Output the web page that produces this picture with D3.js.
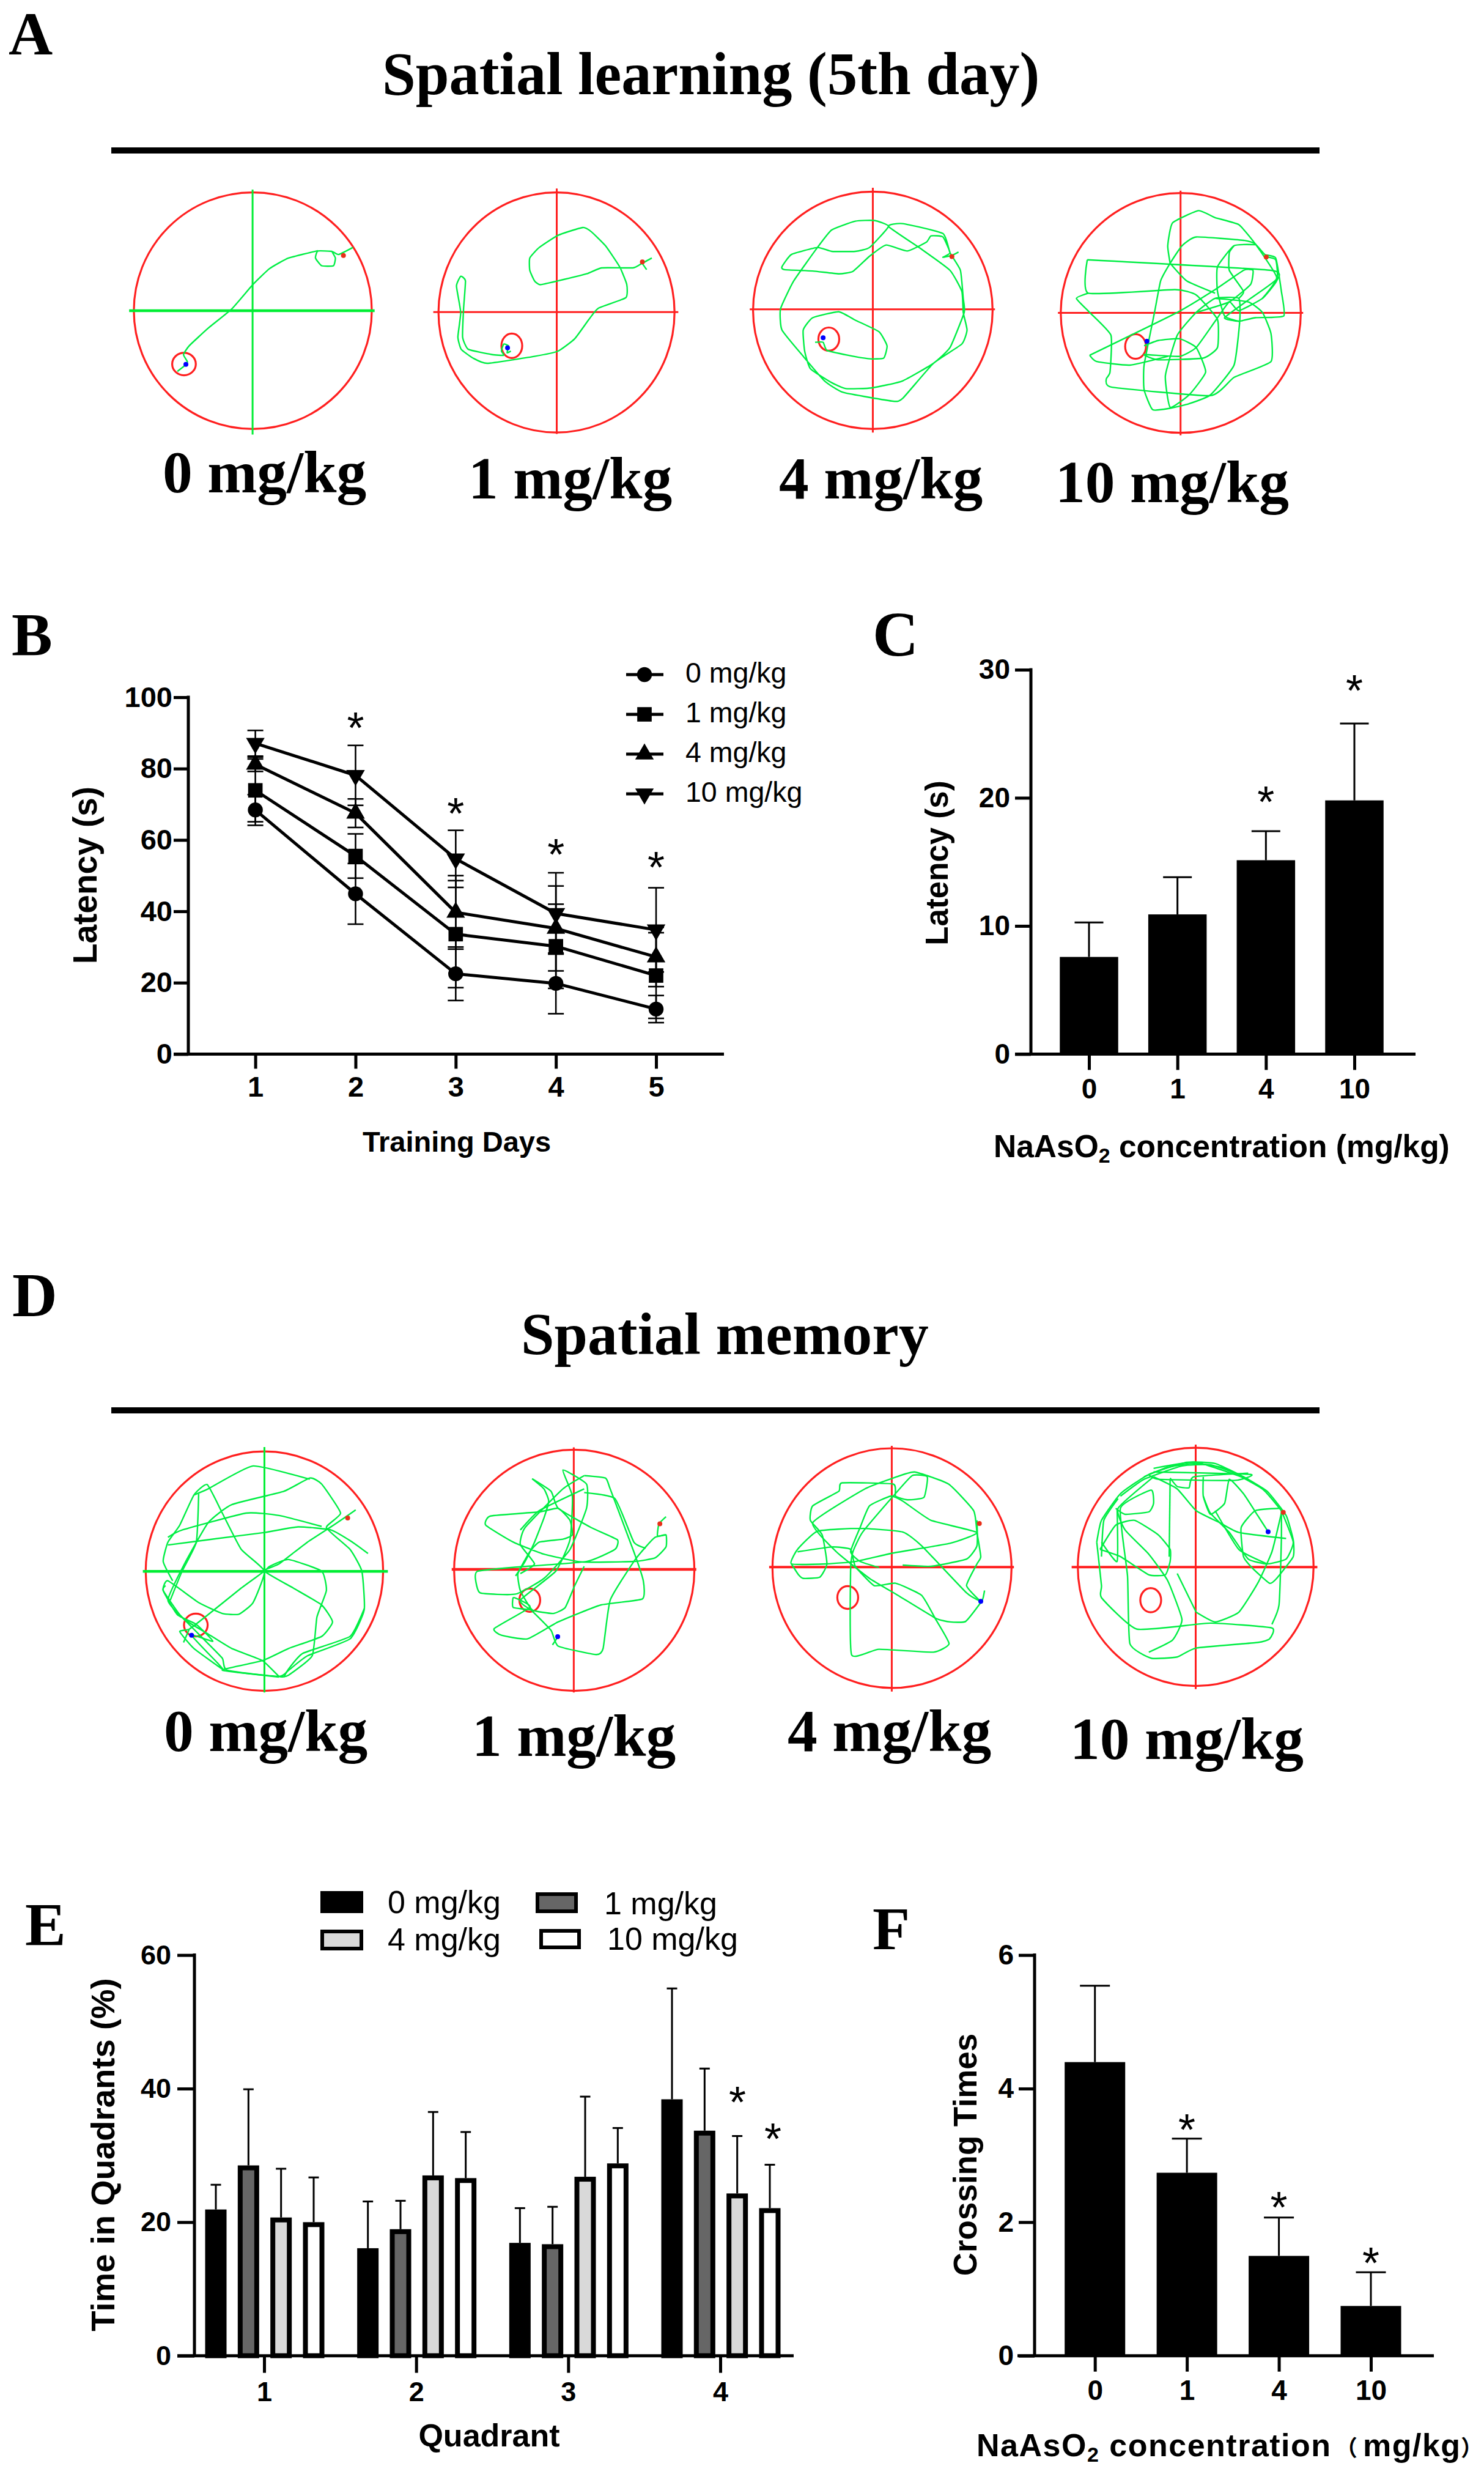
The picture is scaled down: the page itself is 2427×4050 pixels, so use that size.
<!DOCTYPE html>
<html><head><meta charset="utf-8">
<script src="https://cdn.jsdelivr.net/npm/d3@7"></script>
<style>html,body{margin:0;padding:0;background:#fff}svg{display:block}</style>
</head><body><svg id="c" width="2427" height="4050"></svg>
<script>
// ---------- data ----------
const doses = ["0 mg/kg","1 mg/kg","4 mg/kg","10 mg/kg"];
const days = [1,2,3,4,5];
const latency0 = [68.4,44.9,22.5,19.8,12.6];
const latency1 = [73.9,55.5,33.6,30.2,22.0];
const latency4 = [81.2,67.5,39.7,35.2,27.2];
const latency10 = [87.1,78.1,54.7,39.4,34.8];
const latencyErr0 = [4.3,8.5,7.5,8.5,3.8];
const latencyErr1 = [8.8,6.2,15,11.8,12];
const latencyErr4 = [2,4,10.3,11.9,8.3];
const latencyErr10 = [3.6,8.4,8,11.4,11.8];
const starsB = [[2,94],[3,70],[4,58.5],[5,55]];

const concLabels = ["0","1","4","10"];
const probeLatency = [7.58,10.9,15.13,19.8];
const probeLatencyTop = [10.27,13.8,17.4,25.8];
const starsC = [["4",20.4],["10",29.1]];

const quadrants = ["1","2","3","4"];
const quad0 = [21.9,16.1,16.9,38.4];
const quad1 = [28.5,18.95,16.7,33.7];
const quad4 = [20.7,27,26.8,24.3];
const quad10 = [20,26.6,28.8,22.1];
const quadTop0 = [25.6,23.1,22.1,55];
const quadTop1 = [39.9,23.2,22.3,43];
const quadTop4 = [28,36.5,38.8,32.9];
const quadTop10 = [26.7,33.5,34.1,28.6];

const crossings = [4.397,2.74,1.495,0.745];
const crossingsTop = [5.54,3.25,2.07,1.25];
const starsF = [["1",3.52],["4",2.36],["10",1.53]];

// swim tracks, in tracker units (each trial: list of strokes of [x,y])
const trackA0 = [[[746,705],[716,725],[702,716],[709,735],[705,757],[680,757],[667,735],[672,715],[702,716]],
 [[672,714],[610,735],[570,765],[535,810],[490,880],[440,935],[400,985],[388,1010],[396,1030],[392,1040],[375,1058]]];
const trackA1 = [[[1378,735],[1355,752],[1338,763],[1272,763],[1240,780],[1180,800],[1142,811],[1130,800],[1120,770],[1120,735],[1140,705],[1180,670],[1232,648],[1250,660],[1280,700],[1310,760],[1325,810],[1323,848],[1265,878],[1245,910],[1215,965],[1180,1000],[1130,1015],[1030,1035],[1000,1020],[975,995],[968,960],[974,890],[965,815],[974,787],[984,800],[980,880],[978,960],[990,995],[1040,1010],[1065,1012],[1060,1000],[1065,980],[1075,985],[1072,1005],[1080,1000]],
 [[1355,745],[1367,768]]];
const trackA4 = [[[458,718],[445,727],[425,733],[440,720],[425,675],[400,672],[390,690],[350,715],[305,698],[270,730],[235,773],[205,780],[150,772],[90,768],[85,760],[105,725],[160,705],[190,716],[240,716],[270,705],[310,645],[280,628],[240,630],[190,655],[160,705],[110,800],[82,880],[85,940],[130,1015],[175,1085],[215,1118],[320,1143],[340,1135],[405,1035],[465,980],[476,940],[468,890],[465,830],[440,770],[380,710],[310,645],[340,637],[425,665],[440,720],[462,770],[468,850],[470,890],[440,990],[405,1035],[340,1085],[275,1105],[220,1107],[190,1090],[145,1050],[133,1000],[130,940],[150,905],[205,888],[240,912],[290,945],[307,985],[300,1020],[270,1022],[225,1012],[180,998],[172,975],[155,975]]];
const trackA10 = [[[1108,732],[1128,740],[1130,795],[1075,850],[1020,905],[1050,915],[1085,905],[1145,900],[1140,830],[1128,735],[1105,725],[1085,695],[1062,685],[960,675],[930,700],[905,750],[885,800],[872,890],[850,1040],[850,1110],[868,1167],[905,1163],[945,1150],[990,1125],[1040,1040],[1052,915],[1050,850],[1000,850],[960,890],[920,955],[895,1070],[905,1160],[945,1125],[980,1060],[960,990],[925,965],[880,970],[850,985]],
 [[730,740],[1118,770],[1130,800],[1100,850],[1050,885],[1030,860],[1000,915],[960,990],[925,1015],[850,1010],[880,1025],[975,1020],[1005,990],[1005,910],[960,840],[915,825],[732,835],[730,740]],
 [[732,835],[707,850],[735,890],[780,955],[778,1060],[770,1080],[782,1103],[990,1127],[1040,1075],[1118,1030],[1118,950],[1100,890],[1070,860],[1000,850]],
 [[735,1012],[920,890],[1000,825],[1060,770],[1080,770],[1075,810],[1030,860],[960,890]],
 [[735,1012],[750,1030],[820,1040],[900,1015]],
 [[905,750],[900,700],[910,635],[965,600],[1000,620],[1050,640],[1085,695],[1130,790],[1100,850]],
 [[905,750],[940,800],[1000,835]],
 [[1085,697],[1040,700],[1005,760],[1005,830],[1020,900],[1050,915]],
 [[1040,700],[1030,720],[1030,770],[1060,830],[1050,850]]];
const trackD0 = [[[752,427],[705,490],[650,560],[590,650],[559,680],[620,750],[680,820],[703,890],[680,950],[610,1000],[555,1050],[470,1090],[590,1115],[610,1090],[650,1030],[740,960],[770,840],[765,680],[740,590],[690,500],[720,440],[680,320],[655,295],[600,350],[490,405],[440,480],[390,650],[355,800],[390,880],[440,940],[490,1000],[555,1050],[590,1115],[610,1110],[660,1030],[670,870],[690,760],[680,680],[610,632],[570,660],[559,680],[510,750],[440,860],[400,920],[380,930],[410,1000],[470,1085],[460,1060],[405,945],[450,970],[415,900],[375,860],[345,760],[355,720],[420,810],[470,855],[505,858],[535,810],[559,680],[510,590],[470,440],[438,322],[410,365],[380,490],[355,560],[345,640],[365,720]],
 [[778,607],[745,560],[700,510],[630,497],[560,520],[460,545],[355,572]],
 [[355,540],[385,510],[520,440],[590,450],[680,495]],
 [[410,365],[440,340],[535,245],[655,300]],
 [[400,920],[388,975]],
 [[350,740],[345,760],[380,860],[430,960],[470,1040],[480,1090],[590,1118]],
 [[770,835],[740,950],[640,1020],[610,1085],[600,1118]],
 [[420,360],[415,560],[385,680],[360,800]]];
const trackD1 = [[[1408,455],[1393,485],[1390,535],[1408,530],[1408,580],[1385,625],[1340,640],[1230,642],[1150,610],[1085,560],[1027,490],[1037,452],[1140,435],[1180,420],[1205,470],[1210,530],[1190,548],[1140,560],[1120,600],[1095,690],[1100,760],[1125,840],[1170,855],[1195,830],[1215,740],[1235,660]],
 [[1125,298],[1150,340],[1160,390],[1150,460],[1130,560],[1110,640],[1090,700]],
 [[1125,298],[1165,350],[1180,420],[1250,500],[1305,550],[1300,590],[1240,640],[1080,665],[1010,680],[1005,710],[1015,770],[1090,775],[1150,710],[1205,590],[1240,420],[1240,320],[1190,262],[1210,370],[1205,550],[1175,680],[1100,800],[1125,845],[1165,925],[1180,990],[1260,1025],[1275,1000],[1290,800],[1340,640],[1365,580],[1385,540],[1408,530]],
 [[1235,285],[1280,295],[1290,340],[1340,600],[1360,720],[1358,795],[1270,820],[1180,890],[1115,960],[1060,945],[1045,917],[1120,830],[1100,800],[1085,790],[1085,830],[1125,840]],
 [[1235,285],[1190,340],[1110,500],[1100,570],[1130,650],[1100,690]],
 [[1235,340],[1140,430],[1100,510]],
 [[1235,355],[1300,380],[1340,560],[1365,585]],
 [[1180,950],[1168,985]]];
const trackD4 = [[[513,760],[510,790],[505,805],[475,740],[497,650],[505,620],[497,520],[490,430],[437,320],[365,270],[320,295],[260,340],[150,480],[200,600],[270,710],[330,780],[410,875],[440,890],[473,888],[505,810]],
 [[505,805],[475,770],[380,575],[340,518],[250,503],[160,515],[118,590],[105,650],[180,650],[240,640],[320,605],[440,565],[497,520],[400,470],[340,390],[315,370],[270,410],[250,500],[230,600],[250,640],[290,665]],
 [[497,470],[497,575],[475,630],[400,660],[340,655]],
 [[105,650],[120,695],[130,710],[165,705],[180,650],[170,530],[145,470],[150,410],[205,350],[212,315],[320,320],[325,370],[350,385],[385,375],[392,290],[360,285],[320,370],[255,520],[235,600],[230,680],[232,1025],[290,1003],[405,1015],[438,980],[410,880],[380,780],[325,730],[280,740],[240,660],[230,590],[190,580],[118,600]]];
const trackD10 = [[[750,560],[760,470],[800,360],[860,280],[940,230],[1000,235],[1060,290],[1110,350],[1150,450],[1165,550],[1165,620],[1130,710],[1115,730],[1080,670],[1060,620],[1055,500],[1085,430],[1140,420]],
 [[757,590],[800,620],[860,695],[895,695],[905,640],[905,590],[880,530],[830,470],[790,490],[757,590]],
 [[750,560],[760,740],[760,790],[835,920],[990,895],[1120,915],[1115,960],[1090,975],[960,998],[920,1035],[865,1040],[820,980],[815,700],[800,420],[865,345],[870,400],[860,435],[810,445],[790,420]],
 [[860,1015],[910,965],[930,880],[900,720],[860,610],[810,510],[795,420],[870,290]],
 [[905,300],[903,620]],
 [[870,290],[920,340],[960,430],[1010,480],[1050,520],[1150,545]],
 [[1112,517],[1090,450],[1060,360],[1030,300],[1020,400],[990,445],[975,370],[975,290]],
 [[905,295],[920,330],[945,335],[955,290],[1070,275]],
 [[870,255],[960,230],[1070,300]],
 [[870,270],[1075,280],[1040,305],[880,300],[860,280]],
 [[850,290],[900,250],[960,235],[1020,255],[1100,340],[1140,430]],
 [[800,370],[850,300],[930,245],[990,240],[1050,280]],
 [[960,850],[1000,890],[1050,850],[1090,730],[1120,600],[1140,440]],
 [[920,690],[960,850]],
 [[1120,900],[1135,820],[1140,550],[1140,430]],
 [[1140,430],[1165,560],[1150,630],[1110,650],[1070,630],[1030,520],[990,440],[975,370]],
 [[1000,430],[1050,590],[1110,650]],
 [[760,620],[765,470],[795,380]],
 [[793,420],[793,640],[760,560]]];

// ---------- layout ----------
const svg = d3.select("#c");
const SERIF = "'Liberation Serif',serif", SANS = "'Liberation Sans',Arial,sans-serif";
const SPAN = 1568;
function frame(x0,y0,w,h){
  return {x:d3.scaleLinear().domain([0,SPAN]).range([x0,x0+w]), y:d3.scaleLinear().domain([0,SPAN]).range([y0,y0+h])};
}
const fA1=frame(0,0,1213,900), fA2=frame(1213,0,1214,900), fD1=frame(0,2300,1213,620), fD2=frame(1213,2300,1214,620);

const RED="#ff1f1f", GREEN="#00ee44", BLUE="#0000ff";
const arenas = [
 {f:fA1,box:[283,786,548,1222],h:[273,792,885],v:[534,540,1238],cross:"#00ee33",hw:4.5,vw:3,track:trackA0,plat:[389,1037,25,32],red:[726,728],blue:[393,1038]},
 {f:fA1,box:[927,1426,548,1232],h:[916,1434,889],v:[1177,537,1236],cross:RED,hw:3,vw:3,track:trackA1,plat:[1082,985,22,35],red:[1358,746],blue:[1073,991]},
 {f:fA2,box:[24,530,546,1222],h:[17,535,881],v:[277,535,1232],cross:RED,hw:3,vw:3,track:trackA4,plat:[184,966,22,33],red:[444,731],blue:[172,962]},
 {f:fA2,box:[674,1181,550,1233],h:[668,1186,891],v:[927,543,1240],cross:RED,hw:3,vw:3,track:trackA10,plat:[832,987,22,35],red:[1108,732],blue:[856,972]},
 {f:fD1,box:[308,810,185,1175],h:[302,820,681],v:[559,167,1182],cross:"#00ee33",hw:4.5,vw:3,track:trackD0,plat:[414,903,25,47],red:[735,460],blue:[405,945]},
 {f:fD1,box:[960,1468,178,1175],h:[955,1472,673],v:[1213,168,1182],cross:RED,hw:4.5,vw:3,track:trackD1,plat:[1120,800,22,48],red:[1395,484],blue:[1179,951]},
 {f:fD2,box:[65,570,172,1163],h:[58,575,663],v:[317,162,1178],cross:RED,hw:4,vw:3,track:trackD4,plat:[224,789,22,47],red:[502,483],blue:[505,805]},
 {f:fD2,box:[710,1208,170,1155],h:[697,1216,663],v:[959,157,1168],cross:RED,hw:4,vw:3,track:trackD10,plat:[864,800,22,50],red:[1144,437],blue:[1112,517]}
];
const trackLine = d3.line().curve(d3.curveCardinal.tension(0.55));
arenas.forEach(a=>{
  const {x,y}=a.f, g=svg.append("g");
  const ell=(cx,cy,rx,ry)=>g.append("ellipse").attr("cx",x(cx)).attr("cy",y(cy)).attr("rx",x(cx+rx)-x(cx)).attr("ry",y(cy+ry)-y(cy));
  ell((a.box[0]+a.box[1])/2,(a.box[2]+a.box[3])/2,(a.box[1]-a.box[0])/2,(a.box[3]-a.box[2])/2).attr("fill","none").attr("stroke",RED).attr("stroke-width",3.2);
  g.append("line").attr("x1",x(a.h[0])).attr("x2",x(a.h[1])).attr("y1",y(a.h[2])).attr("y2",y(a.h[2])).attr("stroke",a.cross).attr("stroke-width",a.hw);
  g.append("line").attr("x1",x(a.v[0])).attr("x2",x(a.v[0])).attr("y1",y(a.v[1])).attr("y2",y(a.v[2])).attr("stroke",a.cross).attr("stroke-width",a.vw);
  ell(a.plat[0],a.plat[1],a.plat[2],a.plat[3]).attr("fill","none").attr("stroke",RED).attr("stroke-width",3.2);
  g.selectAll("path.t").data(a.track).join("path").attr("class","t").attr("fill","none").attr("stroke",GREEN).attr("stroke-width",2.4).attr("stroke-linejoin","round")
    .attr("d",s=>trackLine(s.map(p=>[x(p[0]),y(p[1])])));
  g.append("circle").attr("cx",x(a.red[0])).attr("cy",y(a.red[1])).attr("r",4).attr("fill","#e8301a");
  g.append("circle").attr("cx",x(a.blue[0])).attr("cy",y(a.blue[1])).attr("r",4).attr("fill",BLUE);
});

function text(s,x,y,size,opt={}){
  const t=svg.append("text").attr("x",x).attr("y",y).attr("font-size",size).attr("font-family",opt.family||SANS)
    .attr("font-weight",opt.weight||"bold").attr("text-anchor",opt.anchor||"start").attr("fill","#000").text(s);
  if(opt.rotate) t.attr("transform",`rotate(-90 ${x} ${y})`);
  return t;
}
// panel letters, titles, rules
[["A",14,89,100],["B",19,1071,100],["C",1427,1072,104],["D",20,2152,102],["E",41,3180,100],["F",1427,3187,100]]
  .forEach(d=>text(d[0],d[1],d[2],d[3],{family:SERIF}));
text("Spatial learning (5th day)",625,154,98.5,{family:SERIF});
text("Spatial memory",852,2214,98,{family:SERIF});
[246,2306].forEach(y=>svg.append("rect").attr("x",182).attr("width",1976).attr("y",y-5).attr("height",10).attr("fill","#000"));
[[266,805],[766,815],[1274,815],[1726,821]].forEach((p,i)=>text(doses[i],p[0],p[1],97.5,{family:SERIF}));
[[268,2863],[772,2871],[1288,2863],[1750,2876]].forEach((p,i)=>text(doses[i],p[0],p[1],97.5,{family:SERIF}));

function styleAxis(g,size){
  g.select(".domain").remove();
  g.selectAll("line").attr("stroke","#000").attr("stroke-width",5);
  g.selectAll("text").attr("font-family",SANS).attr("font-weight","bold").attr("font-size",size).attr("fill","#000");
}
function frameAxes(xAx,yAx,x0,yTop,yBase,xLeft,xRight,size){
  svg.append("g").attr("transform",`translate(${x0},0)`).call(yAx).call(g=>styleAxis(g,size));
  svg.append("g").attr("transform",`translate(0,${yBase})`).call(xAx).call(g=>styleAxis(g,size));
  svg.append("line").attr("x1",x0).attr("x2",x0).attr("y1",yTop-2.5).attr("y2",yBase).attr("stroke","#000").attr("stroke-width",5);
  svg.append("line").attr("x1",xLeft).attr("x2",xRight).attr("y1",yBase).attr("y2",yBase).attr("stroke","#000").attr("stroke-width",5);
}
function star(x,yc){ text("*",x,yc+40,72,{anchor:"middle",weight:"normal"}); }
function errBar(x,yFrom,yTo,cap){
  svg.append("line").attr("x1",x).attr("x2",x).attr("y1",yFrom).attr("y2",yTo).attr("stroke","#000").attr("stroke-width",3);
  svg.append("line").attr("x1",x-cap/2).attr("x2",x+cap/2).attr("y1",yTo).attr("y2",yTo).attr("stroke","#000").attr("stroke-width",3);
}

// ---------- B ----------
{
  const x=d3.scaleLinear().domain([1,5]).range([417.6,1073]);
  const y=d3.scaleLinear().domain([0,100]).range([1723.4,1140]);
  frameAxes(d3.axisBottom(x).tickValues(days).tickFormat(d3.format("d")).tickSize(24).tickPadding(12).tickSizeOuter(0),
    d3.axisLeft(y).tickValues([0,20,40,60,80,100]).tickSize(24).tickPadding(2),308,1140,1723.4,284,1184,47);
  const series=[[latency0,latencyErr0,d3.symbolCircle,0],[latency1,latencyErr1,d3.symbolSquare,0],[latency4,latencyErr4,d3.symbolTriangle,0],[latency10,latencyErr10,d3.symbolTriangle,180]];
  const sizes=[470,560,400,400];
  const line=d3.line().x((d,i)=>x(days[i])).y(d=>y(d));
  series.forEach((s,k)=>{
    s[0].forEach((v,i)=>{
      const xx=x(days[i]);
      svg.append("line").attr("x1",xx).attr("x2",xx).attr("y1",y(v-s[1][i])).attr("y2",y(v+s[1][i])).attr("stroke","#000").attr("stroke-width",2.6);
      [v-s[1][i],v+s[1][i]].forEach(e=>svg.append("line").attr("x1",xx-13).attr("x2",xx+13).attr("y1",y(e)).attr("y2",y(e)).attr("stroke","#000").attr("stroke-width",2.6));
    });
    svg.append("path").attr("d",line(s[0])).attr("fill","none").attr("stroke","#000").attr("stroke-width",5);
    s[0].forEach((v,i)=>svg.append("path").attr("d",d3.symbol(s[2],sizes[k])()).attr("transform",`translate(${x(days[i])},${y(v)}) rotate(${s[3]})`).attr("fill","#000"));
  });
  starsB.forEach(d=>star(x(d[0]),y(d[1])));
  text("Latency (s)",158,1431,55,{rotate:true,anchor:"middle"});
  text("Training Days",747,1883,47,{anchor:"middle"});
  doses.forEach((d,i)=>{
    const ly=1103+i*65;
    svg.append("line").attr("x1",1024).attr("x2",1085).attr("y1",ly).attr("y2",ly).attr("stroke","#000").attr("stroke-width",5);
    svg.append("path").attr("d",d3.symbol(series[i][2],sizes[i])()).attr("transform",`translate(1054,${ly}) rotate(${series[i][3]})`).attr("fill","#000");
    text(d,1121,ly+13,46.5,{weight:"normal"});
  });
}
// ---------- C ----------
function simpleBars(vals,tops,stars,ymax,yticks,xc,barW,capW,yTop,yBase,x0,xLeft,xRight){
  const x=d3.scalePoint().domain(concLabels).range([xc[0],xc[1]]);
  const y=d3.scaleLinear().domain([0,ymax]).range([yBase,yTop]);
  frameAxes(d3.axisBottom(x).tickSize(26).tickPadding(14).tickSizeOuter(0),
    d3.axisLeft(y).tickValues(yticks).tickFormat(d3.format("d")).tickSize(26).tickPadding(8),x0,yTop,yBase,xLeft,xRight,46);
  svg.selectAll(null).data(vals).join("rect").attr("x",(d,i)=>x(concLabels[i])-barW/2).attr("width",barW).attr("y",d=>y(d)).attr("height",d=>yBase-y(d)).attr("fill","#000");
  vals.forEach((v,i)=>errBar(x(concLabels[i]),y(v),y(tops[i]),capW));
  stars.forEach(d=>star(x(d[0]),y(d[1])));
}
simpleBars(probeLatency,probeLatencyTop,starsC,30,[0,10,20,30],[1781,2215],95.5,47,1095,1723.4,1686,1660,2315);
text("Latency (s)",1550,1411,51,{rotate:true,anchor:"middle"});
{
  const t=text("NaAsO",1625,1892,51.5);
  t.append("tspan").attr("font-size",34).attr("dy",9).text("2");
  t.append("tspan").attr("dy",-9).text(" concentration (mg/kg)");
}
// ---------- E ----------
{
  const x=d3.scalePoint().domain(quadrants).range([432,1178]);
  const off=d3.scalePoint().domain(doses).range([-79,81]);
  const y=d3.scaleLinear().domain([0,60]).range([3851.7,3196.6]);
  frameAxes(d3.axisBottom(x).tickSize(28).tickPadding(14).tickSizeOuter(0),
    d3.axisLeft(y).tickValues([0,20,40,60]).tickSize(28).tickPadding(10),318,3196.6,3851.7,290,1298,45);
  const vals=[quad0,quad1,quad4,quad10], tops=[quadTop0,quadTop1,quadTop4,quadTop10], fills=["#000","#666","#d9d9d9","#fff"];
  const W=35,B=8;
  vals.forEach((s,k)=>s.forEach((v,i)=>{
    const c=x(quadrants[i])+off(doses[k]);
    errBar(c,y(v),y(tops[k][i]),17);
    svg.append("rect").attr("x",c-W/2+B/2).attr("width",W-B).attr("y",y(v)+B/2).attr("height",3851.7-y(v)-B/2).attr("fill",fills[k]).attr("stroke","#000").attr("stroke-width",B);
  }));
  star(1206,3422); star(1264,3482);
  text("Time in Quadrants (%)",187,3523,54.5,{rotate:true,anchor:"middle"});
  text("Quadrant",800,4000,52,{anchor:"middle"});
  [[524,3092,70,36],[876,3094,69,34],[524,3155,70,34],[882,3154,68,33]].forEach((b,i)=>{
    svg.append("rect").attr("x",b[0]+3).attr("y",b[1]+3).attr("width",b[2]-6).attr("height",b[3]-6).attr("fill",fills[i]).attr("stroke","#000").attr("stroke-width",6);
  });
  [[634,3128],[988,3130],[634,3189],[993,3188]].forEach((p,i)=>text(doses[i],p[0],p[1],52,{weight:"normal"}));
}
// ---------- F ----------
simpleBars(crossings,crossingsTop,starsF,6,[0,2,4,6],[1790.7,2242],99,49,3196.6,3851.7,1692,1664,2345);
text("Crossing Times",1597,3523,53,{rotate:true,anchor:"middle"});
{
  const t=text("NaAsO",1597,4016,52).attr("letter-spacing",1.5);
  t.append("tspan").attr("font-size",34).attr("dy",9).text("2");
  t.append("tspan").attr("dy",-9).text(" concentration");
  t.append("tspan").attr("x",2184).attr("font-size",36).attr("letter-spacing",0).attr("font-family","'Noto Sans CJK SC'").text("\uFF08");
  t.append("tspan").attr("x",2229).text("mg/kg");
  t.append("tspan").attr("x",2389).attr("font-size",36).attr("letter-spacing",0).attr("font-family","'Noto Sans CJK SC'").text("\uFF09");
}
</script></body></html>
